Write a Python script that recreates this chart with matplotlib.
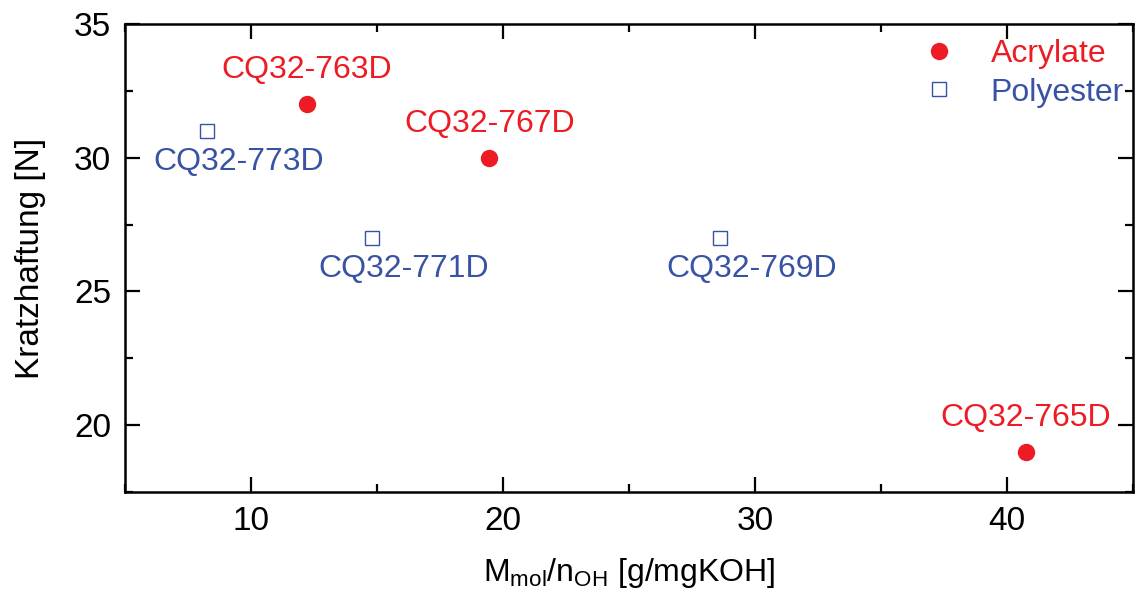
import matplotlib
matplotlib.use("Agg")
import matplotlib.pyplot as plt
from matplotlib.ticker import MultipleLocator

plt.rcParams['font.family'] = ['Liberation Sans', 'DejaVu Sans']

# data
acr_names = ["CQ32-763D", "CQ32-767D", "CQ32-765D"]
acr_x = [12.2, 19.45, 40.75]
acr_y = [32, 30, 19]

pol_names = ["CQ32-773D", "CQ32-771D", "CQ32-769D"]
pol_x = [8.25, 14.8, 28.6]
pol_y = [31, 27, 27]

red = '#ED1C24'
blue = '#3953A4'

fig = plt.figure(figsize=(11.37, 5.94), dpi=100)
ax = fig.add_axes([0.110, 0.172, 0.8866, 0.787])

ax.plot(acr_x, acr_y, 'o', color=red, markersize=11.5, label="Acrylate", linestyle='')
ax.plot(pol_x, pol_y, 's', mfc='none', mec=blue, markersize=9.5, markeredgewidth=1.0,
        label="Polyester", linestyle='')

# labels: acrylate above the point, polyester below right
for n, x, y in zip(acr_names, acr_x, acr_y):
    ax.annotate(n, (x, y), xytext=(0, 34), textcoords='offset pixels',
                ha='center', va='center', color=red, fontsize=23)
for n, x, y in zip(pol_names, pol_x, pol_y):
    ax.annotate(n, (x, y), xytext=(32, -31), textcoords='offset pixels',
                ha='center', va='center', color=blue, fontsize=23)

ax.set_xlim(5, 45)
ax.set_ylim(17.5, 35)
ax.xaxis.set_major_locator(MultipleLocator(10))
ax.xaxis.set_minor_locator(MultipleLocator(5))
ax.yaxis.set_major_locator(MultipleLocator(5))
ax.yaxis.set_minor_locator(MultipleLocator(2.5))
ax.tick_params(which='both', direction='in', top=True, right=True, width=1.6, labelsize=24, pad=10)
ax.tick_params(which='major', length=11)
ax.tick_params(which='minor', length=6)
for s in ax.spines.values():
    s.set_linewidth(1.8)

ax.set_xlabel(r"M$_{\mathregular{mol}}$/n$_{\mathregular{OH}}$ [g/mgKOH]", fontsize=23, labelpad=14)
ax.set_ylabel("Kratzhaftung [N]", fontsize=24, labelpad=20)

ax.legend(loc='upper right', bbox_to_anchor=(0.997, 0.983), frameon=False, fontsize=23,
          labelcolor=[red, blue], handletextpad=0.85, borderaxespad=0.0, borderpad=0.2,
          labelspacing=0.28, handlelength=1.5)

fig.savefig("out.png", dpi=100)
